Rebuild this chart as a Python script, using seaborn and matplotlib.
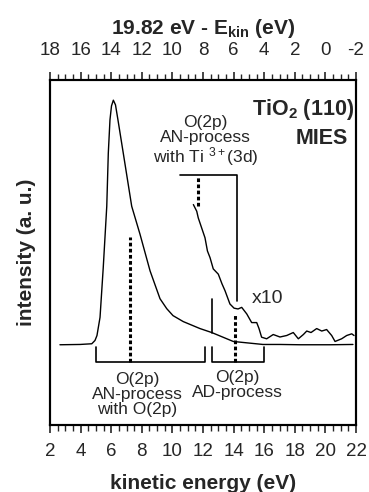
import numpy as np
import pandas as pd
import matplotlib
matplotlib.use("Agg")
import matplotlib.pyplot as plt
import seaborn as sns

# main MIES spectrum (kinetic energy in eV, intensity in a.u.)
ekin_main = [2.65, 3.96, 4.73, 4.94, 5.07, 5.27, 5.48, 5.71, 5.81, 5.92, 6.02,
             6.14, 6.28, 6.44, 6.79, 7.34, 7.88, 8.54, 9.19, 9.63, 10.04,
             10.71, 11.80, 12.57, 13.98, 15.92, 17.03, 18.34, 20.30, 21.80]
int_main = [80.7, 81.0, 81.7, 85.0, 90.0, 108.3, 158.3, 220.0, 273.3, 307.0,
            321.0, 326.7, 322.0, 307.0, 273.3, 220.0, 192.0, 155.0, 127.0,
            117.0, 110.0, 104.0, 97.0, 93.0, 84.0, 81.0, 81.0, 80.7, 80.7, 81.0]

# x10 magnified part
ekin_x10 = [11.37, 11.59, 11.69, 11.91, 12.13, 12.29, 12.46, 12.67, 13.00, 13.24,
            13.44, 13.76, 14.03, 14.29, 14.53, 14.86, 15.18, 15.51, 15.66, 15.83,
            16.16, 16.59, 17.03, 17.47, 17.90, 18.23, 18.56, 18.78, 19.06, 19.43,
            19.76, 20.08, 20.41, 20.63, 21.06, 21.39, 21.72, 21.87]
int_x10 = [221.7, 215.0, 208.3, 198.3, 188.3, 175.0, 168.3, 157.0, 151.7, 142.0,
           135.0, 121.7, 117.5, 116.7, 118.3, 111.7, 103.0, 103.0, 97.0, 88.3,
           86.7, 91.0, 88.5, 90.0, 93.0, 86.7, 91.0, 94.5, 93.0, 97.0,
           94.5, 96.0, 90.0, 84.0, 86.7, 90.0, 91.7, 90.0]

# annotation markers
dash_x = [7.23, 14.09, 11.65]
dash_y0 = [63, 63, 220]
dash_y1 = [189, 112, 250]
brackets = [(5.01, 12.13), (12.57, 16.01)]
bracket_y, bracket_h = 63, 15
ad_line_x, ad_line_y = 12.57, (93, 127)
upper_x, upper_y = (10.50, 14.24), (251, 125)

sns.set_style("ticks")
plt.rcParams['font.family'] = ['Liberation Sans', 'DejaVu Sans']
plt.rcParams['mathtext.fontset'] = 'custom'
plt.rcParams['mathtext.rm'] = 'Liberation Sans'
plt.rcParams['mathtext.it'] = 'Liberation Sans:italic'
plt.rcParams['mathtext.bf'] = 'Liberation Sans:bold'
plt.rcParams['axes.unicode_minus'] = False

fig = plt.figure(figsize=(3.69, 4.92), dpi=100)
ax = fig.add_axes([0.1355, 0.1362, 0.8293, 0.7012])

df_main = pd.DataFrame({'ekin': ekin_main, 'intensity': int_main})
df_x10 = pd.DataFrame({'ekin': ekin_x10, 'intensity': int_x10})
sns.lineplot(data=df_main, x='ekin', y='intensity', ax=ax, color='black',
             lw=1.0, estimator=None, sort=False)
sns.lineplot(data=df_x10, x='ekin', y='intensity', ax=ax, color='black',
             lw=1.0, estimator=None, sort=False)

for x, y0, y1 in zip(dash_x, dash_y0, dash_y1):
    ax.plot([x, x], [y0, y1], color='black', lw=2.2, ls=(0, (1.2, 0.8)))

for x0, x1 in brackets:
    ax.plot([x0, x0, x1, x1], [bracket_y + bracket_h, bracket_y, bracket_y,
                               bracket_y + bracket_h], color='black', lw=1.2)

ax.plot([ad_line_x, ad_line_x], list(ad_line_y), color='black', lw=1.2)
ax.plot([upper_x[0], upper_x[1], upper_x[1]],
        [upper_y[0], upper_y[0], upper_y[1]], color='black', lw=1.2)

fs = 12.5
ax.text(12.18, 285, "O(2p)\nAN-process\nwith Ti $^{3+}$(3d)", ha='center',
        va='center', fontsize=fs, linespacing=1.0)
ax.text(7.72, 31, "O(2p)\nAN-process\nwith O(2p)", ha='center', va='center',
        fontsize=fs, linespacing=1.0)
ax.text(14.25, 40, "O(2p)\nAD-process", ha='center', va='center',
        fontsize=fs, linespacing=1.0)
ax.text(15.2, 127, "x10", fontsize=14, va='center')
ax.text(21.9, 317, r"TiO$_\mathbf{2}$ (110)", ha='right', va='center',
        fontsize=15.5, fontweight='bold')
ax.text(21.45, 288, "MIES", ha='right', va='center', fontsize=15.5,
        fontweight='bold')

ax.set_xlim(2, 22)
ax.set_ylim(0, 347)
ax.set_xticks(np.arange(2, 23, 2))
ax.set_xticks(np.arange(2, 22.01, 0.5), minor=True)
ax.set_yticks([])
ax.set_xlabel("kinetic energy (eV)", fontsize=15, fontweight='bold', labelpad=10)
ax.set_ylabel("intensity (a. u.)", fontsize=15, fontweight='bold', labelpad=10)
ax.tick_params(axis='x', which='major', direction='out', length=6, width=1.2,
               labelsize=13.5, pad=7)
ax.tick_params(axis='x', which='minor', direction='out', length=4, width=1.0)

ax2 = ax.twiny()
ax2.set_xlim(18, -2)
ax2.set_xticks(np.arange(18, -3, -2))
ax2.set_xticks(np.arange(18, -2.01, -0.5), minor=True)
ax2.set_xlabel(r"19.82 eV - E$_{\mathbf{kin}}$ (eV)", fontsize=15,
               fontweight='bold', labelpad=6)
ax2.tick_params(axis='x', which='major', direction='out', length=6, width=1.2,
                labelsize=13.5, pad=9)
ax2.tick_params(axis='x', which='minor', direction='out', length=4, width=1.0)

for a in (ax, ax2):
    for s in a.spines.values():
        s.set_visible(True)
        s.set_linewidth(1.5)
        s.set_color('black')

fig.savefig("out.png", dpi=100)
